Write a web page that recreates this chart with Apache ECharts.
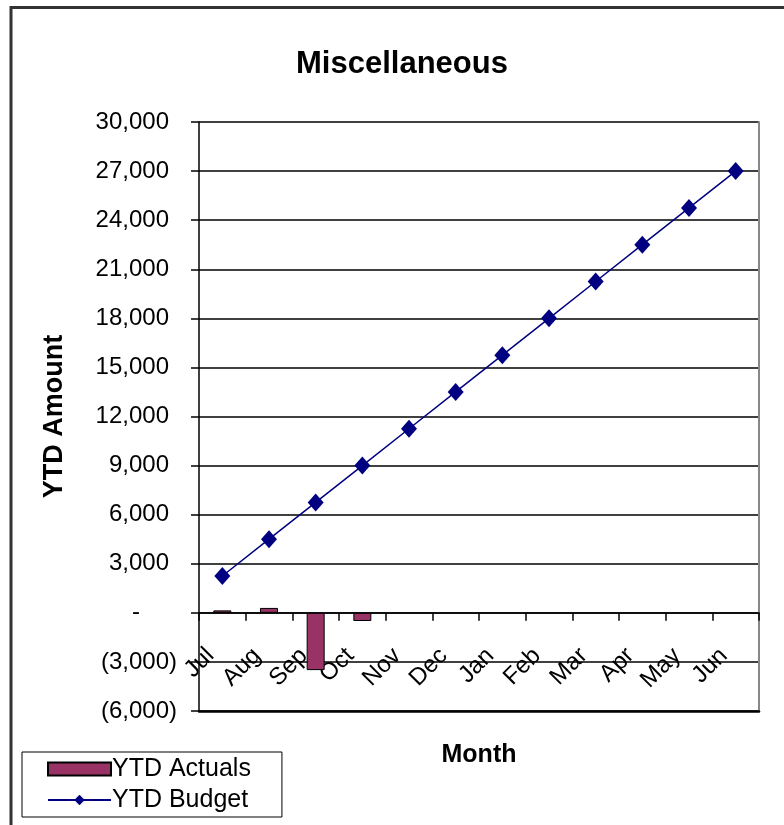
<!DOCTYPE html>
<html>
<head>
<meta charset="utf-8">
<script src="https://cdn.jsdelivr.net/npm/echarts@6/dist/echarts.min.js"></script>
<style>
html,body{margin:0;padding:0;background:#fff;}
#chart{width:784px;height:825px;}
</style>
</head>
<body>
<div id="chart"></div>
<script>
var months = ['Jul','Aug','Sep','Oct','Nov','Dec','Jan','Feb','Mar','Apr','May','Jun'];
var ytdActuals = [150, 300, -3500, -500, null, null, null, null, null, null, null, null];
var ytdBudget = [2250, 4500, 6750, 9000, 11250, 13500, 15750, 18000, 20250, 22500, 24750, 27000];
var yMin = -6000, yMax = 30000, yStep = 3000;

var FONT = '"Liberation Sans", Arial, sans-serif';
var chart = echarts.init(document.getElementById('chart'));

function fmt(v) {
  if (v === 0) return '{z|-}';
  var s = Math.abs(v).toString().replace(/\B(?=(\d{3})+(?!\d))/g, ',');
  return v < 0 ? '{n|(' + s + ')}' : '{p|' + s + '}';
}

chart.setOption({
  backgroundColor: '#fff',
  animation: false,
  title: {
    text: 'Miscellaneous',
    left: 397,
    textAlign: 'center',
    top: 44,
    textStyle: { fontFamily: FONT, fontSize: 31, fontWeight: 'bold', color: '#000' }
  },
  graphic: [{
    type: 'rect',
    shape: { x: 11, y: 7.5, width: 900, height: 900 },
    style: { fill: 'none', stroke: '#333', lineWidth: 3 },
    silent: true
  }],
  legend: {
    orient: 'vertical',
    left: 22,
    top: 752,
    height: 68,
    padding: [3, 31, 3, 25],
    itemGap: 3,
    itemWidth: 63,
    itemHeight: 13,
    borderColor: '#000',
    borderWidth: 1,
    textStyle: { fontFamily: FONT, fontSize: 25, lineHeight: 28, color: '#000', padding: [0, 0, 0, -4] },
    data: [{ name: 'YTD Actuals', icon: 'rect' }, { name: 'YTD Budget' }]
  },
  grid: { left: 199, right: 25, top: 122, bottom: 114, outerBoundsMode: 'none' },
  xAxis: [{
    type: 'category',
    data: months,
    boundaryGap: true,
    axisLine: { onZero: true, lineStyle: { color: '#000', width: 1.5 } },
    axisTick: { show: true, inside: false, length: 8, lineStyle: { color: '#000', width: 1.5 } },
    axisLabel: {
      rotate: 45,
      interval: 0,
      margin: -71,
      padding: [0, 17, 0, 0],
      fontFamily: FONT, fontSize: 24, color: '#000'
    },
    splitLine: { show: false }
  }, {
    type: 'category',
    data: months,
    position: 'bottom',
    axisLine: { onZero: false, lineStyle: { color: '#000', width: 2.5 } },
    axisTick: { show: false },
    axisLabel: { show: false },
    name: 'Month',
    nameLocation: 'middle',
    nameGap: 32,
    nameTextStyle: { fontFamily: FONT, fontSize: 25, fontWeight: 'bold', color: '#000' }
  }],
  yAxis: [{
    type: 'value',
    min: yMin,
    max: yMax,
    interval: yStep,
    name: 'YTD Amount',
    nameLocation: 'middle',
    nameRotate: 90,
    nameGap: 131,
    nameTextStyle: { fontFamily: FONT, fontSize: 27, fontWeight: 'bold', color: '#000' },
    axisLine: { show: true, lineStyle: { color: '#000', width: 1.5 } },
    axisTick: { show: true, inside: false, length: 8, lineStyle: { color: '#000', width: 1.5 } },
    splitLine: { show: true, lineStyle: { color: '#000', width: 1.5 } },
    axisLabel: {
      margin: 22,
      formatter: fmt,
      rich: {
        p: { fontFamily: FONT, fontSize: 24, color: '#000', padding: [0, 8, 0, 0] },
        n: { fontFamily: FONT, fontSize: 24, color: '#000' },
        z: { fontFamily: FONT, fontSize: 24, color: '#000', padding: [0, 37, 0, 0] }
      }
    }
  }, {
    type: 'value',
    min: yMin,
    max: yMax,
    interval: yStep,
    position: 'right',
    axisLine: { show: true, lineStyle: { color: '#888', width: 2 } },
    axisTick: { show: false },
    axisLabel: { show: false },
    splitLine: { show: false }
  }],
  series: [{
    name: 'YTD Actuals',
    type: 'bar',
    xAxisIndex: 0,
    yAxisIndex: 0,
    data: ytdActuals,
    barWidth: 18,
    itemStyle: { color: '#993366', borderColor: '#000', borderWidth: 1 }
  }, {
    name: 'YTD Budget',
    type: 'line',
    xAxisIndex: 0,
    yAxisIndex: 0,
    data: ytdBudget,
    symbol: 'diamond',
    symbolSize: [16, 18],
    lineStyle: { color: '#000080', width: 1.5 },
    itemStyle: { color: '#000080' }
  }]
});
</script>
</body>
</html>
